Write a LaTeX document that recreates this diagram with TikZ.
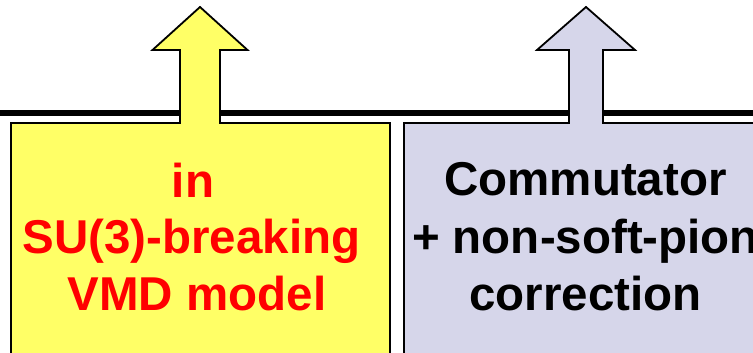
\documentclass[tikz,border=0pt]{standalone}
\usepackage{fontspec}
\setmainfont{Liberation Sans}
\definecolor{boxyellow}{RGB}{255,255,102}
\definecolor{boxlilac}{RGB}{214,214,234}
\definecolor{labelred}{RGB}{255,0,0}
\tikzset{
  outlined/.style={draw=black, line width=1.8pt, line join=miter},
  label text/.style={font=\fontsize{47.5}{57}\selectfont\bfseries, anchor=base, inner sep=0pt},
}
\begin{document}
\begin{tikzpicture}[x=1pt, y=-1pt]
  \useasboundingbox (0,0) rectangle (753,353);
  \clip (0,0) rectangle (753,353);
  % heavy rule behind the two arrows
  \draw[line width=6pt] (-5,113) -- (760,113);
  % yellow box fused with its upward arrow
  \draw[outlined, fill=boxyellow]
    (11,370) -- (11,123) -- (180,123) -- (180,50) -- (152.5,50) -- (200,7)
    -- (247.5,50) -- (220,50) -- (220,123) -- (390,123) -- (390,370);
  % lilac box fused with its upward arrow
  \draw[outlined, fill=boxlilac]
    (404,370) -- (404,123) -- (569,123) -- (569,50) -- (537,50) -- (586,7)
    -- (635,50) -- (603,50) -- (603,123) -- (790,123) -- (790,370);
  % labels
  \node[label text, text=labelred] (l1) at (193,197) {in};
  \node[label text, text=labelred] (l2) at (191.5,253) {SU(3)-breaking};
  \node[label text, text=labelred] (l3) at (197,310) {VMD model};
  \node[label text] (r1) at (585.5,195) {Commutator};
  \node[label text] (r2) at (585.5,253) {+ non-soft-pion};
  \node[label text] (r3) at (585.5,310.5) {correction};
\end{tikzpicture}
\end{document}
